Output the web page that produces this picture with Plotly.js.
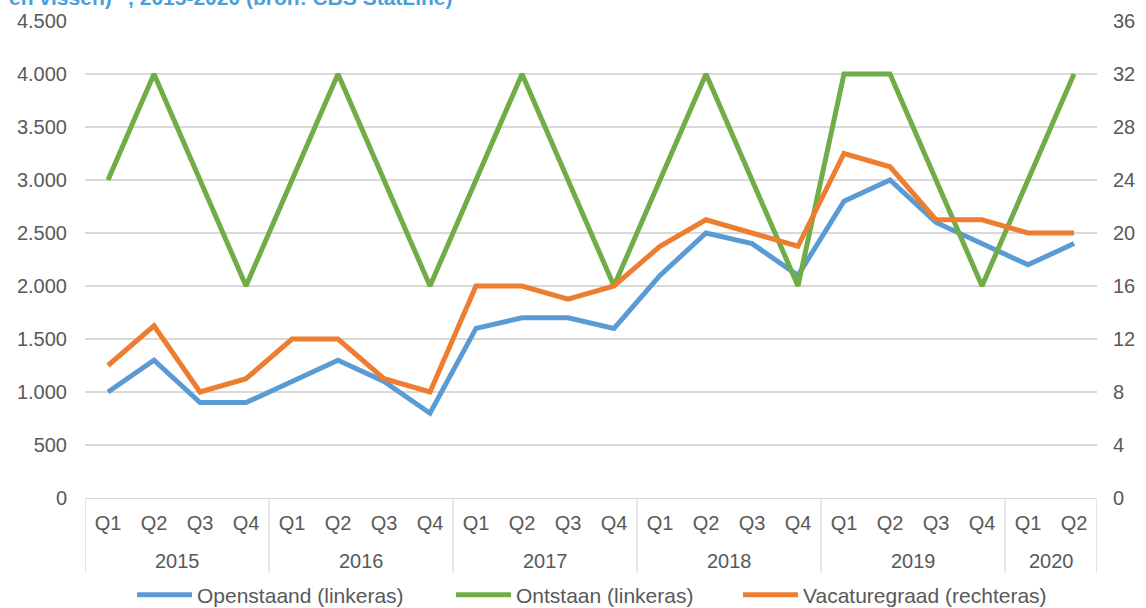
<!DOCTYPE html>
<html>
<head>
<meta charset="utf-8">
<script src="https://cdn.plot.ly/plotly-3.0.1.min.js"></script>
<style>html,body{margin:0;padding:0;background:#fff;overflow:hidden}#chart{width:1146px;height:608px}</style>
</head>
<body>
<div id="chart"></div>
<script>
const years = ["2015","2015","2015","2015","2016","2016","2016","2016","2017","2017","2017","2017","2018","2018","2018","2018","2019","2019","2019","2019","2020","2020"];
const quarters = ["Q1","Q2","Q3","Q4","Q1","Q2","Q3","Q4","Q1","Q2","Q3","Q4","Q1","Q2","Q3","Q4","Q1","Q2","Q3","Q4","Q1","Q2"];
const openstaand = [1000,1300,900,900,1100,1300,1100,800,1600,1700,1700,1600,2100,2500,2400,2100,2800,3000,2600,2400,2200,2400];
const ontstaan = [3000,4000,3000,2000,3000,4000,3000,2000,3000,4000,3000,2000,3000,4000,3000,2000,4000,4000,3000,2000,3000,4000];
const vacaturegraad = [10,13,8,9,12,12,9,8,16,16,15,16,19,21,20,19,26,25,21,21,20,20];
const leftTicks = [0,500,1000,1500,2000,2500,3000,3500,4000,4500];
const rightTicks = [0,4,8,12,16,20,24,28,32,36];
const seriesNames = ["Openstaand (linkeras)", "Ontstaan (linkeras)", "Vacaturegraad (rechteras)"];
const titleText = 'en vissen)” , 2015-2020 (bron: CBS StatLine)';

const FONT = "Liberation Sans, Arial, sans-serif";
const TXT = "#595959";
const GRID = "#D9D9D9";
const W = 1146, H = 608;
const M = {l: 85, r: 49, t: 21, b: 110};
const plotH = H - M.t - M.b;

// unique category keys, labelled with the quarter
const cats = years.map((y, i) => y + " " + quarters[i]);

// year groups derived from the data arrays
const groups = [];
years.forEach((y, i) => {
  if (!groups.length || groups[groups.length - 1].year !== y) groups.push({year: y, start: i, end: i});
  else groups[groups.length - 1].end = i;
});

const dividerBottom = -(75 / plotH);
const shapes = [];
groups.forEach(g => {
  shapes.push({type: "line", xref: "x", yref: "paper", x0: g.start - 0.5, x1: g.start - 0.5,
               y0: 0, y1: dividerBottom, line: {color: GRID, width: 1.3}});
});
const lastG = groups[groups.length - 1];
shapes.push({type: "line", xref: "x", yref: "paper", x0: lastG.end + 0.5, x1: lastG.end + 0.5,
             y0: 0, y1: dividerBottom, line: {color: GRID, width: 1.3}});

const annotations = groups.map(g => ({
  text: g.year, xref: "x", yref: "paper", x: (g.start + g.end) / 2, xanchor: "center",
  y: -(63 / plotH), yanchor: "middle", showarrow: false,
  font: {family: FONT, size: 20, color: TXT}
}));
annotations.push({text: titleText, xref: "paper", yref: "paper", x: -M.l / (W - M.l - M.r), xanchor: "left",
  xshift: 7, y: 1 + 10 / plotH, yanchor: "bottom", showarrow: false,
  font: {family: FONT, size: 21, color: "#4A9FDB", weight: "bold"}});

const legendNames = ["legend", "legend2", "legend3"];
const legendLeft = [132, 451, 738];
const colors = ["#5B9BD5", "#70AD47", "#ED7D31"];
const values = [openstaand, ontstaan, vacaturegraad];
const axes = ["y", "y", "y2"];

const traces = values.map((v, k) => ({
  x: cats, y: v, name: seriesNames[k], type: "scatter", mode: "lines",
  line: {color: colors[k], width: 5}, yaxis: axes[k], legend: legendNames[k]
}));

const layout = {
  width: W, height: H,
  margin: M,
  paper_bgcolor: "#fff", plot_bgcolor: "#fff",
  separators: ",.",
  font: {family: FONT, size: 20, color: TXT},
  showlegend: true,
  xaxis: {type: "category", range: [-0.5, cats.length - 0.5], tickvals: cats, ticktext: quarters,
          showgrid: false, zeroline: false, ticks: "", automargin: false,
          showline: true, linecolor: GRID, linewidth: 1.3, ticklabelstandoff: 7,
          tickfont: {family: FONT, size: 20, color: TXT}},
  yaxis: {range: [0, 4500], tickvals: leftTicks, tickformat: ",d", showgrid: true,
          gridcolor: GRID, gridwidth: 1.3, zeroline: false, ticks: "", automargin: false,
          ticklabelstandoff: 17, tickfont: {family: FONT, size: 20, color: TXT}},
  yaxis2: {range: [0, 36], tickvals: rightTicks, overlaying: "y", side: "right",
           showgrid: false, zeroline: false, ticks: "", automargin: false, ticklabelstandoff: 15,
           tickfont: {family: FONT, size: 20, color: TXT}},
  shapes: shapes,
  annotations: annotations
};
legendNames.forEach((ln, k) => {
  layout[ln] = {orientation: "h", x: legendLeft[k] / W, xanchor: "left", xref: "container",
    y: 13 / H, yanchor: "middle", yref: "container", bgcolor: "rgba(0,0,0,0)",
    font: {family: FONT, size: 21, color: TXT}, itemwidth: 55};
});

Plotly.newPlot("chart", traces, layout, {displayModeBar: false, staticPlot: true});
</script>
</body>
</html>
